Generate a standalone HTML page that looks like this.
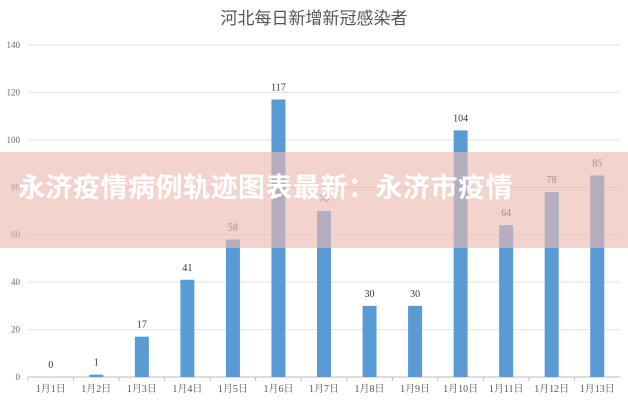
<!DOCTYPE html>
<html><head><meta charset="utf-8"><style>
body{margin:0;background:#fff;width:628px;height:400px;overflow:hidden;position:relative;font-family:"Liberation Serif","Noto Serif CJK SC",serif}
#banner{position:absolute;left:0;top:152px;width:628px;height:96px;background:rgba(234,185,176,0.63)}
#banner-text{position:absolute;left:18px;top:166px;font:bold 27px "Liberation Sans","Noto Sans CJK SC",sans-serif;color:#fff;letter-spacing:0.5px;white-space:nowrap}
</style></head><body>
<svg id="chart" width="628" height="400" style="position:absolute;left:0;top:0">
<text x="314" y="24" text-anchor="middle" font-size="17" fill="#555" font-family="Liberation Sans, Noto Sans CJK SC, sans-serif">河北每日新增新冠感染者</text>
<g id="grid"></g><g id="bars"></g><g id="labels"></g>
</svg>
<div id="banner"></div>
<div id="banner-text">永济疫情病例轨迹图表最新：永济市疫情</div>
<script>
const categories=["1月1日","1月2日","1月3日","1月4日","1月5日","1月6日","1月7日","1月8日","1月9日","1月10日","1月11日","1月12日","1月13日"];
const values=[0,1,17,41,58,117,70,30,30,104,64,78,85];
const yTicks=[0,20,40,60,80,100,120,140];
const NS="http://www.w3.org/2000/svg";
const L=28,R=620,Y0=377,Y1=45,YMAX=140;
const y=v=>Y0-(v/YMAX)*(Y0-Y1);
const bw=(R-L)/categories.length;
const x=i=>L+bw*(i+0.5);
function mk(t,a,p){const e=document.createElementNS(NS,t);for(const k in a)e.setAttribute(k,a[k]);p.appendChild(e);return e;}
const g=document.getElementById('grid'),b=document.getElementById('bars'),lb=document.getElementById('labels');
yTicks.forEach(t=>{
 const ln=mk('line',{x1:L,x2:R,y1:y(t),y2:y(t),stroke:t===0?'#bbb':'#e2e2e2','stroke-width':1},g);
 
 
 const tx=mk('text',{x:20,y:y(t)+3,'text-anchor':'end','font-size':9,fill:'#666'},g);
 tx.textContent=t;
 
 
});
categories.forEach((c,i)=>{
 const tk=mk('line',{x1:L+bw*i,x2:L+bw*i,y1:Y0,y2:Y0+4,stroke:'#bbb'},g);
 
 
 const v=values[i];
 const r=mk('rect',{x:x(i)-7,y:y(v),width:14,height:Math.max(Y0-y(v),0),fill:'#5b9bd5'},b);
 
 
 const vl=mk('text',{x:x(i),y:y(v)-9,'text-anchor':'middle','font-size':10,fill:'#333'},lb);
 vl.textContent=v;
 
 
 const xl=mk('text',{x:x(i),y:392,'text-anchor':'middle','font-size':10,fill:'#555'},lb);
 xl.textContent=c;
 
 
});
</script>
</body></html>
